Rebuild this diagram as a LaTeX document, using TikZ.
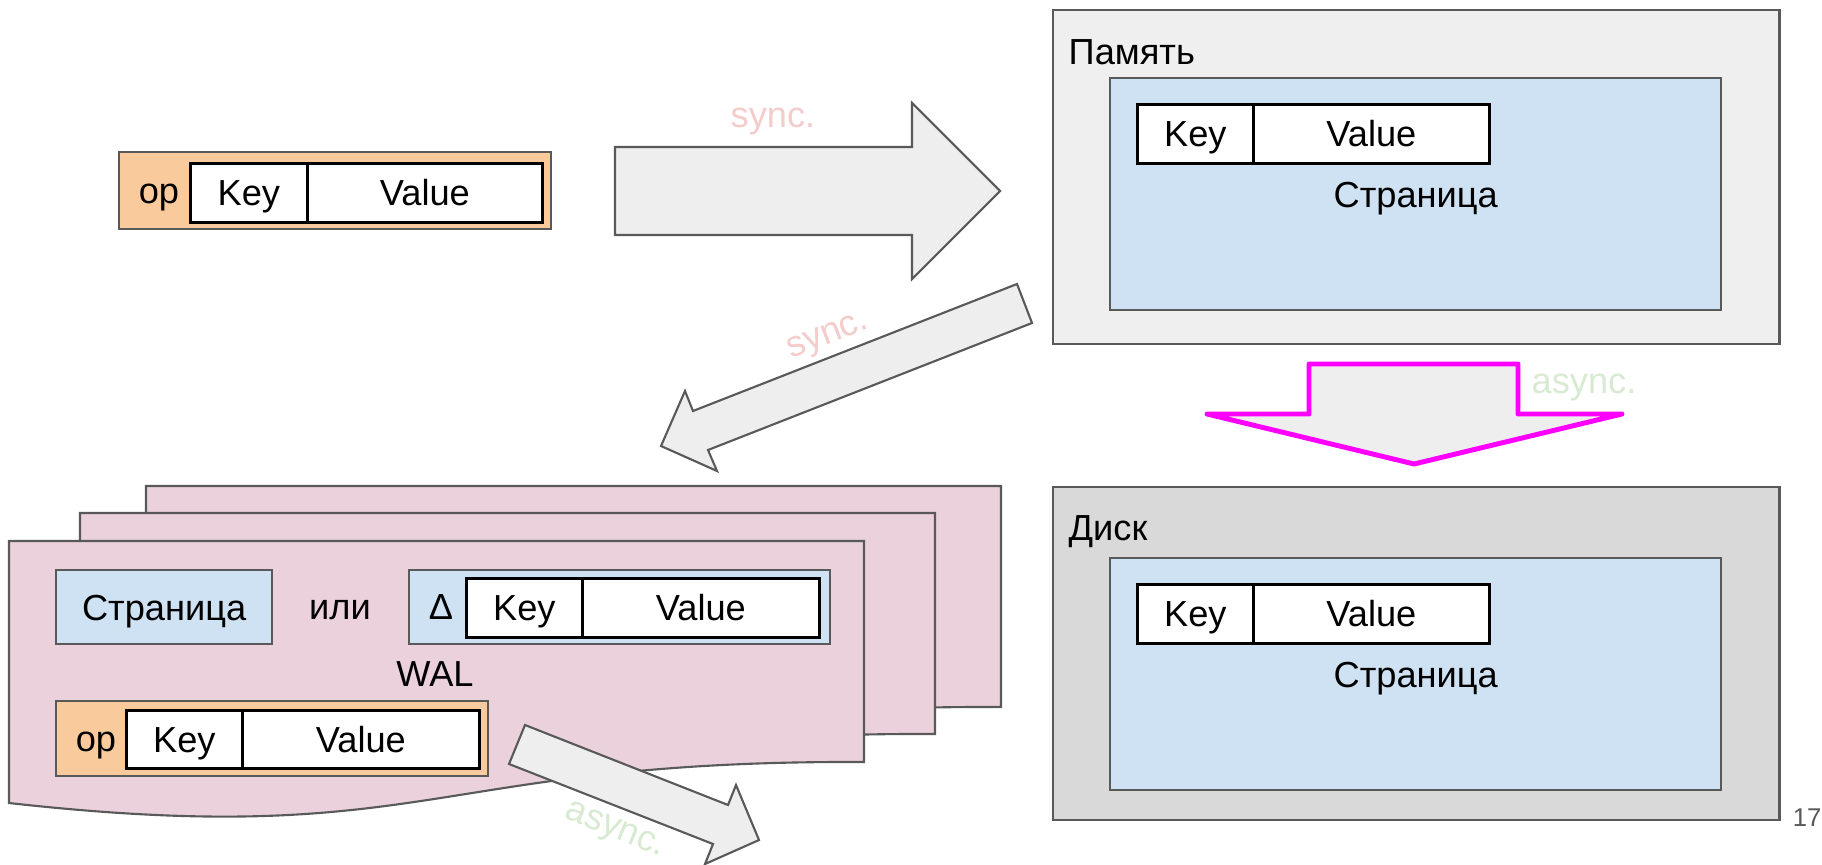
\documentclass[tikz,border=0pt]{standalone}
\usepackage{fontspec}
\setmainfont{Liberation Sans}
\usetikzlibrary{positioning}

\definecolor{pagepink}{HTML}{EAD1DC}
\definecolor{pageblue}{HTML}{CFE2F3}
\definecolor{oporange}{HTML}{F9CB9C}
\definecolor{memgray}{HTML}{EFEFEF}
\definecolor{diskgray}{HTML}{D9D9D9}
\definecolor{arrowgray}{HTML}{EEEEEE}
\definecolor{edgegray}{HTML}{595959}
\definecolor{syncpink}{HTML}{F4CCCC}
\definecolor{asyncgreen}{HTML}{D9EAD3}
\definecolor{flushmag}{HTML}{FF00FF}

\tikzset{
  txt/.style={font=\fontsize{10.3}{12}\selectfont, text height=7.4pt, text depth=0pt},
  box/.style={txt, draw=edgegray, line width=0.6pt, inner sep=0pt, anchor=north west},
  kvbox/.style={txt, draw=black, line width=0.75pt, fill=white, inner sep=0pt, anchor=north west},
  lbl/.style={txt, inner sep=0pt},
  blockarrow/.style={fill=arrowgray, draw=edgegray, line width=0.6pt},
  page/.style={fill=pagepink, draw=edgegray, line width=0.6pt},
}

\begin{document}
\begin{tikzpicture}[x=0.01cm, y=-0.01cm]
  \useasboundingbox (0,0) rectangle (1822,864);
  \fill[white] (0,0) rectangle (1822,864);

  % record, top left
  \node[box, fill=oporange, minimum width=4.32cm, minimum height=0.77cm] (rec) at (118,151) {};
  \node[lbl] (recop) at (159,190) {op};
  \node[kvbox, minimum width=1.17cm, minimum height=0.59cm] (reckey) at (189,162) {Key};
  \node[kvbox, minimum width=2.35cm, minimum height=0.59cm] (recval) at (306,162) {Value};

  % memory
  \node[box, fill=memgray, minimum width=7.26cm, minimum height=3.34cm] (mem) at (1052,9) {};
  \node[lbl, anchor=west] (memlbl) at (1068,51) {Память};
  \node[box, fill=pageblue, minimum width=6.11cm, minimum height=2.32cm] (mempage) at (1109,77) {Страница};
  \node[kvbox, minimum width=1.16cm, minimum height=0.59cm] (memkey) at (1136,103) {Key};
  \node[kvbox, minimum width=2.36cm, minimum height=0.59cm] (memval) at (1252,103) {Value};

  % disk
  \node[box, fill=diskgray, minimum width=7.26cm, minimum height=3.33cm] (disk) at (1052,486) {};
  \node[lbl, anchor=west] (disklbl) at (1068,527) {Диск};
  \node[box, fill=pageblue, minimum width=6.11cm, minimum height=2.32cm] (diskpage) at (1109,557) {Страница};
  \node[kvbox, minimum width=1.16cm, minimum height=0.59cm] (diskkey) at (1136,583) {Key};
  \node[kvbox, minimum width=2.36cm, minimum height=0.59cm] (diskval) at (1252,583) {Value};

  % arrows
  \draw[blockarrow] (615,147) -- (912,147) -- (912,103) -- (1000,191) -- (912,279) -- (912,235) -- (615,235) -- cycle;
  \node[lbl, text=syncpink] (synclbl) at (773,114) {sync.};
  \draw[blockarrow] (1017,284) -- (1032,323) -- (708,450) -- (717,471) -- (661,446) -- (685,391) -- (693,411) -- cycle;
  \node[lbl, text=syncpink, rotate=21] (synclbl2) at (826,331) {sync.};
  \draw[fill=arrowgray, draw=flushmag, line width=1.4pt, line join=round]
    (1207,414) -- (1309,414) -- (1309,364) -- (1518,364) -- (1518,414) -- (1622,414) -- (1414,464) -- cycle;
  \node[lbl, text=asyncgreen] (asynclbl) at (1584,380) {async.};

  % WAL pages
  \foreach \dx/\dy in {137/-55, 71/-28, 0/0}
    \draw[page, shift={(\dx,\dy)}] (9,541) -- (864,541) -- (864,762) .. controls (430,760) and (430,850) .. (9,803) -- cycle;
  \node[box, fill=pageblue, minimum width=2.16cm, minimum height=0.74cm] (walpage) at (55,569) {Страница};
  \node[lbl] (walor) at (340,606) {или};
  \node[box, fill=pageblue, minimum width=4.21cm, minimum height=0.74cm] (waldelta) at (408,569) {};
  \node[lbl] (waldlbl) at (441,606) {Δ};
  \node[kvbox, minimum width=1.16cm, minimum height=0.59cm] (walkey) at (465,577) {Key};
  \node[kvbox, minimum width=2.37cm, minimum height=0.59cm] (walval) at (581,577) {Value};
  \node[lbl] (wallbl) at (435,673) {WAL};
  \node[box, fill=oporange, minimum width=4.32cm, minimum height=0.75cm] (walop) at (55,700) {};
  \node[lbl] (walopl) at (96,738) {op};
  \node[kvbox, minimum width=1.16cm, minimum height=0.58cm] (walopkey) at (125,709) {Key};
  \node[kvbox, minimum width=2.37cm, minimum height=0.58cm] (walopval) at (241,709) {Value};

  \draw[blockarrow] (525,725) -- (728,805) -- (736,785) -- (759,840) -- (705,864) -- (713,844) -- (509,764) -- cycle;
  \node[lbl, text=asyncgreen, rotate=-22] (asynclbl2) at (617,825) {async.};

  \node[lbl, font=\fontsize{7.3}{9}\selectfont, text height=5.2pt, text=edgegray] (pnum) at (1807,817) {17};
\end{tikzpicture}
\end{document}
